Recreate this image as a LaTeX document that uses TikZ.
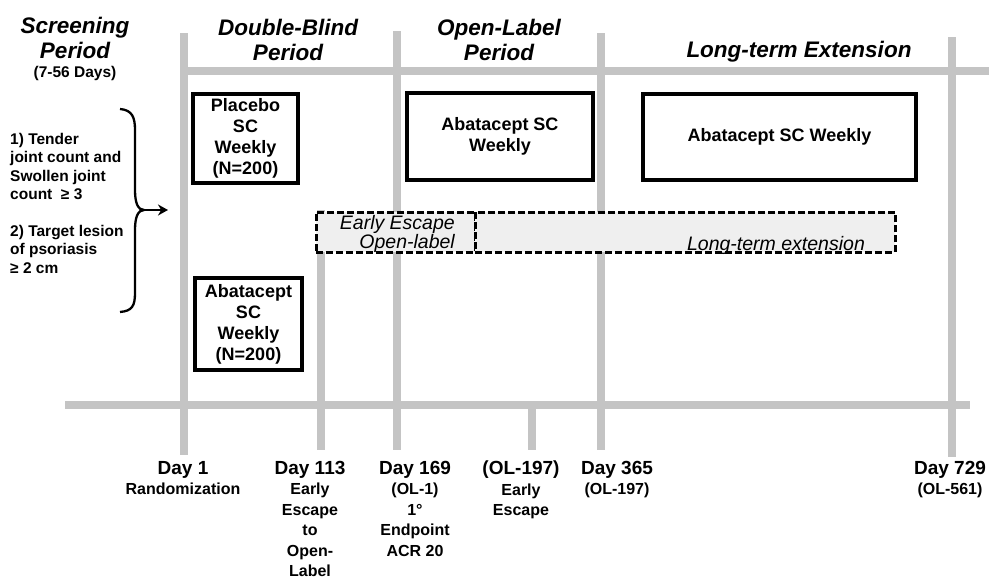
\documentclass[tikz,border=0pt]{standalone}
\usepackage{fontspec}
\setmainfont{Liberation Sans}
\usetikzlibrary{arrows.meta}
\definecolor{gridgray}{RGB}{196,196,196}
\definecolor{dashfill}{RGB}{239,239,239}
\newcommand\hdrfont{\fontsize{22.5}{25}\selectfont\bfseries\itshape}
\newcommand\boxfont{\fontsize{18}{21}\selectfont\bfseries}
\newcommand\critfont{\fontsize{15.5}{18.5}\selectfont\bfseries}
\newcommand\daybig{\fontsize{19}{20.5}\selectfont\bfseries}
\newcommand\daysmall{\fontsize{16}{20.5}\selectfont\bfseries}
\newcommand\dashtxt{\fontsize{19.5}{19}\selectfont\itshape}
\begin{document}
\begin{tikzpicture}[x=1pt,y=-1pt,
  gline/.style={line width=8.5pt,draw=gridgray},
  armbox/.style={draw,line width=3.4pt,fill=white,inner sep=0pt,align=center,font=\boxfont},
  dbox/.style={draw,line width=3pt,dash pattern=on 7pt off 3pt,fill=dashfill,inner sep=0pt},
  hdr/.style={align=center,font=\hdrfont,inner sep=0pt},
  daylbl/.style={anchor=north,align=center,inner sep=0pt,font=\daysmall},
  crit/.style={anchor=north west,align=left,inner sep=0pt,font=\critfont}]
\useasboundingbox (0,0) rectangle (989,582);

% grey timeline grid
\coordinate (t1) at (184,33);  \coordinate (b1) at (184,455);
\coordinate (t2) at (397,31);  \coordinate (b2) at (397,450);
\coordinate (t3) at (601,33);  \coordinate (b3) at (601,450);
\coordinate (t4) at (952,37);  \coordinate (b4) at (952,457);
\coordinate (t5) at (321,210); \coordinate (b5) at (321,450);
\coordinate (t6) at (532,405); \coordinate (b6) at (532,450);
\coordinate (hl) at (184,71);  \coordinate (hr) at (989,71);
\coordinate (ll) at (65,405);  \coordinate (lr) at (970,405);
\draw[gline] (t1) -- (b1);
\draw[gline] (t2) -- (b2);
\draw[gline] (t3) -- (b3);
\draw[gline] (t4) -- (b4);
\draw[gline] (t5) -- (b5);
\draw[gline] (t6) -- (b6);
\draw[gline] (hl) -- (hr);
\draw[gline] (ll) -- (lr);

% headers
\node[hdr] (hscr) at (75,38) {Screening\\Period};
\node[inner sep=0pt,font=\fontsize{15.5}{18}\selectfont\bfseries] (hdays) at (75,73) {(7-56 Days)};
\node[hdr] (hdb) at (288,40) {Double-Blind\\Period};
\node[hdr] (hol) at (499,40) {Open-Label\\Period};
\node[hdr] (hlte) at (799,52) {Long-term Extension};

% arm boxes
\node[armbox,minimum width=105pt,minimum height=89pt] (plac) at (245.5,138.5) {Placebo\\SC\\Weekly\\(N=200)};
\node[armbox,minimum width=107pt,minimum height=92pt] (abat) at (248.5,324) {Abatacept\\SC\\Weekly\\(N=200)};
\node[armbox,minimum width=186pt,minimum height=87pt] (olbox) at (500,136.5) {Abatacept SC\\Weekly};
\node[armbox,minimum width=273pt,minimum height=86pt] (ltebox) at (779.5,137) {Abatacept SC Weekly};

% dashed early-escape / extension band
\node[dbox,minimum width=159pt,minimum height=40pt] (eebox) at (395.5,232) {};
\node[dbox,minimum width=420pt,minimum height=40pt] (ltebox2) at (685,232) {};
\node[anchor=east,align=right,inner sep=0pt,font=\dashtxt] (eetxt) at (455,234) {Early Escape\\Open-label};
\node[inner sep=0pt,font=\dashtxt] (ltetxt) at (776,245) {Long-term extension};

% inclusion criteria
\node[crit] (c1) at (10,133) {1) Tender\\joint count and\\Swollen joint\\count \ ≥ 3};
\node[crit] (c2) at (10,225) {2) Target lesion\\of psoriasis\\ ≥ 2 cm};

% brace and arrow
\coordinate (brtop) at (120,109);
\coordinate (brtip) at (144,210);
\coordinate (brbot) at (120,312);
\coordinate (arend) at (168,210);
\draw[line width=2.3pt]
  (brtop) .. controls (132,110) and (135,117) .. (135,130) -- (135,190)
  .. controls (135,203) and (138,210) .. (brtip)
  .. controls (138,210) and (135,217) .. (135,230) -- (135,293)
  .. controls (135,306) and (132,311) .. (brbot);
\draw[line width=2.3pt,-{Stealth[length=10pt,width=11pt]}] (brtip) -- (arend);

% day labels
\node[daylbl] (d1) at (183,461) {{\daybig Day 1}\\Randomization};
\node[daylbl] (d113) at (310,461) {{\daybig Day 113}\\Early\\Escape\\to\\Open-\\Label};
\node[daylbl] (d169) at (415,461) {{\daybig Day 169}\\(OL-1)\\1°\\Endpoint\\ACR 20};
\node[daylbl] (d197) at (521,461) {{\daybig (OL-197)}\\Early\\Escape};
\node[daylbl] (d365) at (617,461) {{\daybig Day 365}\\(OL-197)};
\node[daylbl] (d729) at (950,461) {{\daybig Day 729}\\(OL-561)};
\end{tikzpicture}
\end{document}
